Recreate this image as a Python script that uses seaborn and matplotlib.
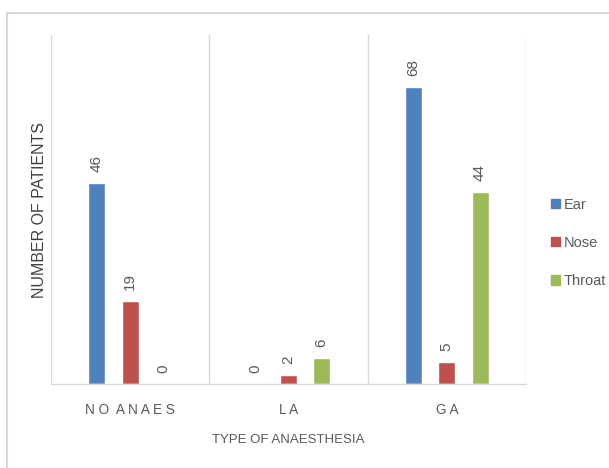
import matplotlib
matplotlib.use("Agg")
import matplotlib.pyplot as plt
import matplotlib.patches as mpatches
import seaborn as sns
import pandas as pd

# Data
categories = ["NO ANAES", "LA", "GA"]
tick_labels = ["N O  A N A E S", "L A", "G A"]
series = ["Ear", "Nose", "Throat"]
ear = [46, 0, 68]
nose = [19, 2, 5]
throat = [0, 6, 44]
colors = ["#4F81BD", "#C0504D", "#9BBB59"]

rows = []
for name, vals in zip(series, [ear, nose, throat]):
    for cat, v in zip(categories, vals):
        rows.append({"type": cat, "patients": v, "part": name})
df = pd.DataFrame(rows)

sns.set_theme(style="white")
plt.rcParams["font.family"] = ["Liberation Sans", "DejaVu Sans"]

text_gray = "#595959"
grid_gray = "#D9D9D9"

fig = plt.figure(figsize=(6.09, 4.68), dpi=100)
ax = fig.add_axes([51 / 609, 1 - 384 / 468, (526 - 51) / 609, (384 - 35) / 468])

sns.barplot(data=df, x="type", y="patients", hue="part", order=categories,
            hue_order=series, palette=colors, width=0.63, gap=0.49,
            saturation=1, legend=False, ax=ax)

ax.set_ylim(0, 80)
ax.set_xlim(-0.5, 2.5)
ax.set_yticks([])

# category separators
for xv in [-0.5, 0.5, 1.5, 2.5]:
    ax.axvline(xv, color=grid_gray, lw=1, zorder=0)
for s in ["top", "right", "left"]:
    ax.spines[s].set_visible(False)
ax.spines["bottom"].set_color(grid_gray)
ax.spines["bottom"].set_linewidth(1)

for cont in ax.containers:
    ax.bar_label(cont, fmt="%d", rotation=90, padding=8, color=text_gray, fontsize=11)

ax.set_xticks(range(len(categories)))
ax.set_xticklabels(tick_labels, fontsize=9.8, color=text_gray)
ax.tick_params(axis="x", length=0, pad=14)
ax.set_xlabel("TYPE OF ANAESTHESIA", fontsize=9.5, color=text_gray, labelpad=12)
ax.set_ylabel("NUMBER OF PATIENTS", fontsize=11.5, color="#404040", labelpad=3)

handles = [mpatches.Patch(color=c, label=s) for c, s in zip(colors, series)]
fig.legend(handles=handles, loc="center left", bbox_to_anchor=(551 / 609, 1 - 243 / 468),
           frameon=False, fontsize=10.5, labelcolor=text_gray, handlelength=0.6,
           handleheight=0.6, handletextpad=0.3, labelspacing=1.65, borderpad=0,
           borderaxespad=0)

# chart border
fig.patches.append(mpatches.Rectangle((7 / 609, -0.2), 1.2, 1 - 13 / 468 + 0.2,
                                      transform=fig.transFigure, fill=False,
                                      edgecolor=grid_gray, lw=1.5, zorder=-1))

fig.savefig("out.png", dpi=100)
